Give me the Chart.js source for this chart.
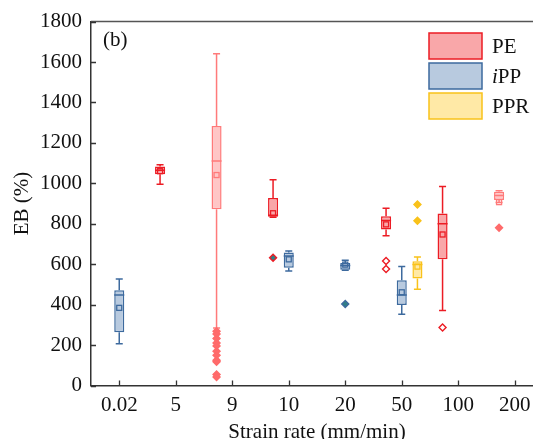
<!DOCTYPE html>
<html>
<head>
<meta charset="utf-8">
<script src="https://cdn.jsdelivr.net/npm/chart.js@4.4.0/dist/chart.umd.min.js"></script>
<style>
  html, body { margin: 0; padding: 0; background: #fff; overflow: hidden; }
  #wrap { width: 545px; height: 439px; }
</style>
</head>
<body>
<div id="wrap"><canvas id="ebChart" width="545" height="439"></canvas></div>
<script>
const strainRates = ["0.02", "5", "9", "10", "20", "50", "100", "200"];

// PE
const peMin      = [null, 995, 285, 832, null, 741, 371, 905];
const peQ1       = [null, 1045, 872, 835, null, 772, 625, 918];
const peMedian   = [null, 1065, 1110, 842, null, 816, 800, 940];
const peQ3       = [null, 1083, 1283, 928, null, 837, 851, 958];
const peMax      = [null, 1092, 1641, 1018, null, 877, 984, 963];
const peMean     = [null, 1060, 1041, 852, null, 797, 747, 907];
const peOutliers = [[], [], [268, 255, 232, 210, 196, 170, 150, 125, 118, 55, 42], [632], [], [616, 576], [287], [780]];

// iPP
const ippMin      = [206, null, null, 566, 570, 353, null, null];
const ippQ1       = [264, null, null, 583, 573, 398, null, null];
const ippMedian   = [448, null, null, 640, 594, 448, null, null];
const ippQ3       = [471, null, null, 658, 606, 520, null, null];
const ippMax      = [527, null, null, 665, 619, 589, null, null];
const ippMean     = [384, null, null, 624, 598, 461, null, null];
const ippOutliers = [[], [], [], [], [403], [], [], []];

// PPR
const pprMin      = [null, null, null, null, null, 476, null, null];
const pprQ1       = [null, null, null, null, null, 529, null, null];
const pprMedian   = [null, null, null, null, null, 598, null, null];
const pprQ3       = [null, null, null, null, null, 614, null, null];
const pprMax      = [null, null, null, null, null, 635, null, null];
const pprMean     = [null, null, null, null, null, 588, null, null];
const pprOutliers = [[], [], [], [], [], [895, 815], [], []];

const yTicks = [0, 200, 400, 600, 800, 1000, 1200, 1400, 1600, 1800];

const FONT = "'Liberation Serif', 'Times New Roman', serif";

function stats(min, q1, median, q3, max, mean, outliers) {
    return { min, q1, median, q3, max, mean, outliers };
}

function boxRange(q1, q3) {
    return q1.map((v, i) => (v == null ? null : [v, q3[i]]));
}

const peStats = stats(peMin, peQ1, peMedian, peQ3, peMax, peMean, peOutliers);
const ippStats = stats(ippMin, ippQ1, ippMedian, ippQ3, ippMax, ippMean, ippOutliers);
const pprStats = stats(pprMin, pprQ1, pprMedian, pprQ3, pprMax, pprMean, pprOutliers);

// PE boxes at 9 and 200 mm/min are drawn paler in the original
const peStroke = strainRates.map((r) => (r === "9" || r === "200" ? "#ff7a7a" : "#ec1c24"));
const peFill = strainRates.map((r) => (r === "9" || r === "200" ? "#ffc6c6" : "#f9a7a9"));
const peOutFill = strainRates.map((r) =>
    r === "9" || r === "200" ? "#ff6b6b" : r === "10" ? "#2f7f86" : "#ffffff");
const peOutStroke = strainRates.map((r) => (r === "9" || r === "200" ? "#ff6b6b" : "#ec1c24"));

const boxPlotPlugin = {
    id: "boxPlot",
    afterDatasetsDraw(chart) {
        const ctx = chart.ctx;
        const yScale = chart.scales.y;
        chart.data.datasets.forEach((ds, i) => {
            const meta = chart.getDatasetMeta(i);
            const st = ds.stats;
            meta.data.forEach((bar, j) => {
                if (st.min[j] == null) return;
                const x = bar.x;
                const half = bar.width / 2;
                const cap = half * 0.7;
                const color = Array.isArray(ds.borderColor) ? ds.borderColor[j] : ds.borderColor;
                const py = (v) => yScale.getPixelForValue(v);
                ctx.save();
                ctx.strokeStyle = color;
                ctx.lineWidth = 1.5;
                ctx.beginPath();
                // upper whisker
                ctx.moveTo(x, py(st.q3[j]));
                ctx.lineTo(x, py(st.max[j]));
                ctx.moveTo(x - cap, py(st.max[j]));
                ctx.lineTo(x + cap, py(st.max[j]));
                // lower whisker
                ctx.moveTo(x, py(st.q1[j]));
                ctx.lineTo(x, py(st.min[j]));
                ctx.moveTo(x - cap, py(st.min[j]));
                ctx.lineTo(x + cap, py(st.min[j]));
                // median
                ctx.moveTo(x - half, py(st.median[j]));
                ctx.lineTo(x + half, py(st.median[j]));
                ctx.stroke();
                // mean
                ctx.lineWidth = 1.3;
                ctx.strokeRect(x - 2.5, py(st.mean[j]) - 2.5, 5, 5);
                // outliers
                const outFill = Array.isArray(ds.outlierFill) ? ds.outlierFill[j] : ds.outlierFill;
                const outStroke = Array.isArray(ds.outlierStroke) ? ds.outlierStroke[j] : ds.outlierStroke;
                st.outliers[j].forEach((v) => {
                    const oy = py(v);
                    ctx.beginPath();
                    ctx.moveTo(x, oy - 3.5);
                    ctx.lineTo(x + 3.5, oy);
                    ctx.lineTo(x, oy + 3.5);
                    ctx.lineTo(x - 3.5, oy);
                    ctx.closePath();
                    ctx.fillStyle = outFill;
                    ctx.fill();
                    ctx.strokeStyle = outStroke;
                    ctx.lineWidth = 1.4;
                    ctx.stroke();
                });
                ctx.restore();
            });
        });
    },
    afterDraw(chart) {
        const ctx = chart.ctx;
        const area = chart.chartArea;
        const xs = chart.scales.x;
        const ys = chart.scales.y;
        ctx.save();
        // frame top line
        ctx.strokeStyle = "#555";
        ctx.lineWidth = 1.5;
        ctx.beginPath();
        ctx.moveTo(area.left, area.top);
        ctx.lineTo(area.right, area.top);
        ctx.stroke();
        // inward ticks
        ctx.strokeStyle = "#333";
        ctx.lineWidth = 1.3;
        ctx.beginPath();
        xs.ticks.forEach((t, k) => {
            const px = Math.round(xs.getPixelForTick(k)) + 0.5;
            ctx.moveTo(px, area.bottom);
            ctx.lineTo(px, area.bottom - 5);
        });
        ys.ticks.forEach((t, k) => {
            const py = Math.round(ys.getPixelForTick(k)) + 0.5;
            ctx.moveTo(area.left, py);
            ctx.lineTo(area.left + 5, py);
        });
        ctx.stroke();

        // panel label
        ctx.fillStyle = "#111";
        ctx.font = "21px " + FONT;
        ctx.textAlign = "left";
        ctx.textBaseline = "alphabetic";
        ctx.fillText("(b)", area.left + 12, area.top + 24);

        // legend
        const lx = 429, lw = 53, lh = 26;
        const rows = [
            { y: 33, fill: "#f9a7a9", stroke: "#ec1c24", parts: [["", "PE"]] },
            { y: 63, fill: "#b8cadf", stroke: "#3d6a9e", parts: [["italic ", "i"], ["", "PP"]] },
            { y: 93, fill: "#ffe9a6", stroke: "#f9c21a", parts: [["", "PPR"]] }
        ];
        rows.forEach((r) => {
            ctx.fillStyle = r.fill;
            ctx.fillRect(lx, r.y, lw, lh);
            ctx.strokeStyle = r.stroke;
            ctx.lineWidth = 1.5;
            ctx.strokeRect(lx, r.y, lw, lh);
            let tx = lx + lw + 10;
            ctx.fillStyle = "#111";
            ctx.textBaseline = "middle";
            r.parts.forEach(([style, txt]) => {
                ctx.font = style + "21px " + FONT;
                ctx.fillText(txt, tx, r.y + lh / 2 + 1);
                tx += ctx.measureText(txt).width;
            });
        });
        ctx.restore();
    }
};

Chart.defaults.font.family = FONT;
Chart.defaults.font.size = 21;
Chart.defaults.color = "#111";

new Chart(document.getElementById("ebChart"), {
    type: "bar",
    data: {
        labels: strainRates,
        datasets: [
            {
                label: "PE",
                data: boxRange(peQ1, peQ3),
                stats: peStats,
                backgroundColor: peFill,
                borderColor: peStroke,
                outlierFill: peOutFill,
                outlierStroke: peOutStroke
            },
            {
                label: "iPP",
                data: boxRange(ippQ1, ippQ3),
                stats: ippStats,
                backgroundColor: "#b8cadf",
                borderColor: "#3d6a9e",
                outlierFill: "#2f7f86",
                outlierStroke: "#3d6a9e"
            },
            {
                label: "PPR",
                data: boxRange(pprQ1, pprQ3),
                stats: pprStats,
                backgroundColor: "#ffe9a6",
                borderColor: "#f9c21a",
                outlierFill: "#f9c21a",
                outlierStroke: "#f9c21a"
            }
        ].map((d) => Object.assign(d, {
            borderWidth: 1.5,
            borderSkipped: false,
            categoryPercentage: 0.833,
            barPercentage: 0.64
        }))
    },
    options: {
        responsive: false,
        animation: false,
        layout: { padding: { top: 21, left: 0, right: 2, bottom: 0 } },
        plugins: {
            legend: { display: false },
            tooltip: { enabled: false }
        },
        scales: {
            x: {
                grid: { display: false, drawTicks: false },
                border: { display: true, color: "#333", width: 1.5 },
                ticks: { padding: 7, color: "#111" },
                title: {
                    display: true,
                    text: "Strain rate (mm/min)",
                    color: "#111",
                    padding: { top: 0, bottom: -6 }
                },
                afterFit: (scale) => { scale.height = 53.5; }
            },
            y: {
                min: 0,
                max: 1800,
                afterBuildTicks: (scale) => { scale.ticks = yTicks.map((v) => ({ value: v })); },
                grid: { display: false, drawTicks: false },
                border: { display: true, color: "#333", width: 1.5 },
                ticks: { padding: 9, color: "#111", callback: (v) => String(v) },
                title: {
                    display: true,
                    text: "EB (%)",
                    color: "#111",
                    padding: { top: 10, bottom: 0 }
                },
                afterFit: (scale) => { scale.width = 91; }
            }
        }
    },
    plugins: [boxPlotPlugin]
});
</script>
</body>
</html>
